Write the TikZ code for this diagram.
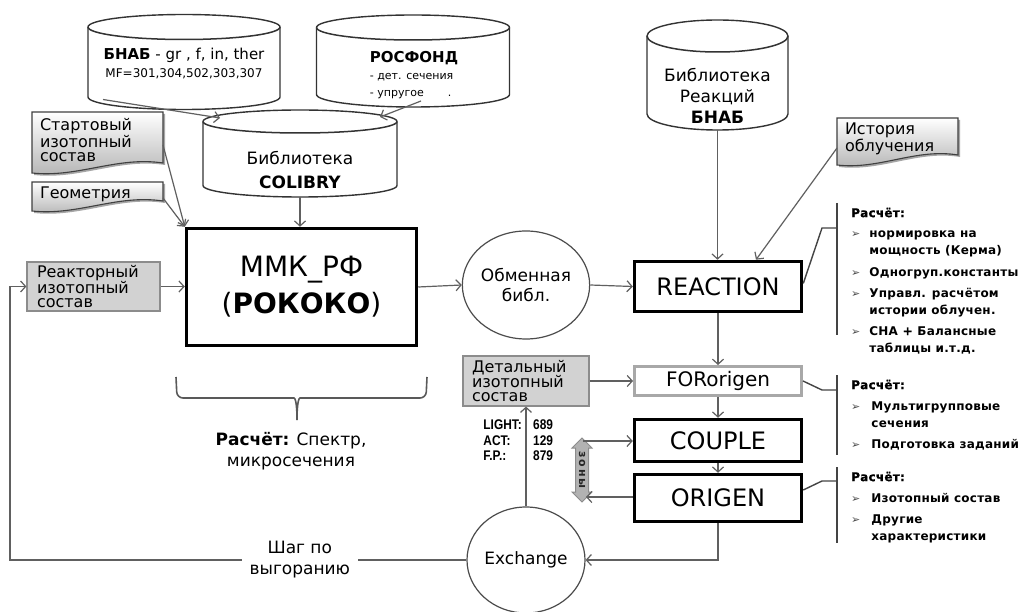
\documentclass[tikz,border=0pt]{standalone}
\usepackage{fontspec}
\setmainfont{DejaVu Sans}
\newfontfamily\notefont[LetterSpace=2,UprightFont={* Bold},BoldFont={* Bold},
  BoldFeatures={FakeBold=1.2}]{DejaVu Sans}
\newfontfamily\narrowfont[FakeStretch=0.85]{Liberation Sans}
\usetikzlibrary{arrows.meta,positioning,calc,backgrounds,shapes.geometric}
\definecolor{lineGray}{HTML}{606060}
\definecolor{boxGray}{HTML}{D2D2D2}
\definecolor{frameGray}{HTML}{A8A8A8}
\definecolor{darkGray}{HTML}{444444}

% database drum behind an empty node: name, half width, cap radius (in pt)
\newcommand{\dbcyl}[3]{%
  \filldraw[cylline] ([yshift=-#3pt]#1.north west) -- ([yshift=#3pt]#1.south west)
    .. controls ([yshift={0.448*#3*1pt}]#1.south west) and ([xshift={-0.552*#2*1pt}]#1.south) .. (#1.south)
    .. controls ([xshift={0.552*#2*1pt}]#1.south) and ([yshift={0.448*#3*1pt}]#1.south east) .. ([yshift=#3pt]#1.south east)
    -- ([yshift=-#3pt]#1.north east)
    .. controls ([yshift={-0.448*#3*1pt}]#1.north east) and ([xshift={0.552*#2*1pt}]#1.north) .. (#1.north)
    .. controls ([xshift={-0.552*#2*1pt}]#1.north) and ([yshift={-0.448*#3*1pt}]#1.north west) .. ([yshift=-#3pt]#1.north west)
    -- cycle;
  \draw[cylline,fill=none,line width=1.5pt] ([yshift=-#3pt]#1.north west)
    .. controls ([yshift={-1.552*#3*1pt}]#1.north west) and ([xshift={-0.552*#2*1pt},yshift={-2*#3*1pt}]#1.north) .. ([yshift={-2*#3*1pt}]#1.north)
    .. controls ([xshift={0.552*#2*1pt},yshift={-2*#3*1pt}]#1.north) and ([yshift={-1.552*#3*1pt}]#1.north east) .. ([yshift=-#3pt]#1.north east);}
% document sheet with wavy bottom
\newcommand{\docback}[1]{%
  \fill[black!35] let \p1=(#1.north west),\p2=(#1.south east),\n1={\x2-\x1} in
    (\x1+2pt,\y1-2pt) -- (\x2+2pt,\y1-2pt) -- (\x2+2pt,\y2+3pt)
    .. controls (\x1+0.65*\n1+2pt,\y2+10pt) and (\x1+0.35*\n1+2pt,\y2-12pt) .. (\x1+2pt,\y2-7pt) -- cycle;
  \shade[docline] let \p1=(#1.north west),\p2=(#1.south east),\n1={\x2-\x1} in
    (\x1,\y1) -- (\x2,\y1) -- (\x2,\y2+5pt)
    .. controls (\x1+0.65*\n1,\y2+12pt) and (\x1+0.35*\n1,\y2-10pt) .. (\x1,\y2-5pt) -- cycle;}
\newcommand{\bul}{{\fontsize{11}{11}\selectfont\textcolor{black!70}{➢}}}

\begin{document}
\begin{tikzpicture}[x=1pt,y=-1pt,
  conn/.style={-{Straight Barb[length=5pt,width=11pt]},draw=lineGray,line width=1.2pt},
  cylbox/.style={rectangle,inner sep=0pt,outer sep=0pt},
  cylline/.style={draw=black!80,line width=1.4pt,fill=white,line join=round},
  cyltext/.style={align=center,inner sep=0pt,font=\fontsize{17}{21}\selectfont},
  docbox/.style={rectangle,inner xsep=8pt,inner ysep=0pt,outer sep=0pt,align=left,
    font=\fontsize{16}{14}\selectfont},
  docline/.style={draw=black!75,line width=1.1pt,top color=white,bottom color=black!30},
  graybox/.style={rectangle,draw=black!45,line width=1.2pt,fill=boxGray,align=left,
    inner xsep=10pt,inner ysep=0pt,font=\fontsize{16}{14}\selectfont},
  mainbox/.style={rectangle,draw=black,line width=3.5pt,fill=white,align=center,inner sep=0pt},
  roundbox/.style={ellipse,draw=black!70,line width=1.2pt,minimum width=118pt,minimum height=108pt,
    inner sep=0pt,align=center,font=\fontsize{17}{20}\selectfont},
  notetext/.style={anchor=north west,inner sep=0pt,font=\notefont\fontsize{12}{17}\selectfont},
  brk/.style={draw=darkGray,line width=1.4pt},
  bracecol/.style={draw=black!65,line width=1.6pt},
  zonefill/.style={draw=black!45,fill=black!30,line width=1pt}
]
\useasboundingbox (0,0) rectangle (1031,612);

% libraries
\node[cylbox,minimum width=192pt,minimum height=95pt] (bnab) at (184,62) {};
\dbcyl{bnab}{96}{12.5}
\node[cyltext,font=\fontsize{15}{18}\selectfont] (bnabtxt) at (184,64)
  {\textbf{БНАБ} - gr , f, in, ther\\{\fontsize{12}{14}\selectfont MF=301,304,502,303,307}};
\node[cylbox,minimum width=193pt,minimum height=92pt] (rosfond) at (413,61) {};
\dbcyl{rosfond}{96.5}{12.5}
\node[cyltext,align=left,font=\fontsize{11}{17}\selectfont] (rosftxt) at (414,75)
  {{\fontsize{15}{18}\selectfont\textbf{РОСФОНД}}\\- дет. сечения\\- упругое\hspace{24pt}.};
\node[cylbox,minimum width=194pt,minimum height=87pt] (colibry) at (300,153.5) {};
\dbcyl{colibry}{97}{11.5}
\node[cyltext,font=\fontsize{17}{24}\selectfont] (colitxt) at (300,170) {Библиотека\\\textbf{COLIBRY}};
\node[cylbox,minimum width=141pt,minimum height=110pt] (bibreac) at (717.5,75) {};
\dbcyl{bibreac}{70.5}{16}
\node[cyltext] (bibtxt) at (717.5,96) {Библиотека\\Реакций\\\textbf{БНАБ}};

% input sheets
\node[docbox,minimum width=131pt,minimum height=56pt,text width=115pt] (start) at (97.5,140)
  {Стартовый\\изотопный\\состав};
\node[docbox,minimum width=131pt,minimum height=24pt,text width=115pt] (geom) at (97.5,194) {Геометрия};
\node[docbox,minimum width=121pt,minimum height=42pt,text width=105pt] (history) at (897.5,139)
  {История\\облучения};
\node[graybox,text width=113pt,minimum height=49pt] (reactor) at (93.5,286.5) {Реакторный\\изотопный\\состав};
\node[graybox,text width=108pt,inner xsep=9pt,minimum height=50pt] (detal) at (526,381)
  {Детальный\\изотопный\\состав};

% codes
\node[mainbox,minimum width=230pt,minimum height=117pt,font=\fontsize{28}{37}\selectfont] (mmk)
  at (301.5,287) {ММК\_РФ\\(\textbf{РОКОКО})};
\node[roundbox] (obmen) at (526,285) {Обменная\\библ.};
\node[mainbox,minimum width=167pt,minimum height=50pt,font=\fontsize{24}{28}\selectfont] (reaction)
  at (718,286.5) {REACTION};
\node[mainbox,draw=frameGray,line width=3pt,minimum width=167pt,minimum height=29pt,
  font=\fontsize{20}{24}\selectfont] (fororigen) at (718,381) {FORorigen};
\node[mainbox,minimum width=167pt,minimum height=42pt,font=\fontsize{24}{28}\selectfont] (couple)
  at (718,440.5) {COUPLE};
\node[mainbox,minimum width=167pt,minimum height=47pt,font=\fontsize{24}{28}\selectfont] (origen)
  at (718,498) {ORIGEN};
\node[roundbox,minimum height=106pt] (exchange) at (526,560) {Exchange};

% zones
\filldraw[zonefill] (582,438) -- (592,448) -- (588.5,448) -- (588.5,492) -- (592,492) -- (582,502)
  -- (572,492) -- (575.5,492) -- (575.5,448) -- (572,448) -- cycle;
\node[rotate=-90,inner sep=0pt,text=black!85,font=\bfseries\fontsize{11}{11}\selectfont] (zones)
  at (582,470) {з\,о\,н\,ы};
\coordinate (ztop) at (583,441);
\coordinate (zbot) at (586,497);

% nuclide counts
\node[align=left,inner sep=0pt,anchor=north east,font=\narrowfont\bfseries\fontsize{14}{15.5}\selectfont]
  (lightlbl) at (522,420) {LIGHT:\\ACT:\\F.P.:};
\node[align=left,inner sep=0pt,right=11pt of lightlbl,font=\narrowfont\bfseries\fontsize{14}{15.5}\selectfont]
  (lightval) {689\\129\\879};

% connectors
\draw[conn] ([xshift=-81pt,yshift=10pt]bnab.south) -- ([xshift=-80pt,yshift=-8pt]colibry.north);
\draw[conn] ([xshift=8pt,yshift=6pt]rosfond.south) -- ([xshift=80pt,yshift=-7pt]colibry.north);
\draw[conn] ([yshift=-5pt]start.east) -- (mmk.north west);
\draw[conn] ([yshift=-4pt]geom.east) -- (mmk.north west);
\draw[conn] (colibry.south) -- (colibry.south |- mmk.north);
\draw[conn] (reactor.east) -- (reactor.east -| mmk.west);
\draw[conn] (mmk.east) -- (obmen.west);
\draw[conn] (obmen.east) -- (reaction.west);
\draw[conn] (bibreac.south) -- (bibreac.south |- reaction.north);
\draw[conn] ([yshift=-9pt]history.west) -- ([xshift=38pt]reaction.north);
\draw[conn] (reaction.south) -- (fororigen.north);
\draw[conn] (detal.east) -- (detal.east -| fororigen.west);
\draw[conn] (fororigen.south) -- (couple.north);
\draw[conn] (couple.south) -- (origen.north);
\draw[conn] (origen.south) |- (exchange.east);
\draw[conn] (exchange.north) -- (detal.south);
\draw[conn] (ztop) -- (ztop -| couple.west);
\draw[conn] (zbot -| origen.west) -- (zbot);
\coordinate (loopc) at (10,560);
\draw[conn] (exchange.west) -- node[pos=0.365,fill=white,inner xsep=8pt,align=center,
  font=\fontsize{17}{21}\selectfont] (step) {Шаг по\\выгоранию} (loopc) |- (reactor.west);

% brace under the transport code
\draw[bracecol,rounded corners=6pt] (176,377) -- (177,398) -- (288,398) .. controls (295,398) and (297,402) .. (297,420);
\draw[bracecol,rounded corners=6pt] (427,377) -- (426,398) -- (306,398) .. controls (299,398) and (297,402) .. (297,420);
\node[align=center,inner sep=0pt,font=\fontsize{17}{21}\selectfont] (calcmmk) at (291,451)
  {\textbf{Расчёт:} Спектр,\\микросечения};

% notes on the right
\coordinate (brk1) at (837,228);
\coordinate (brk2) at (837,390);
\coordinate (brk3) at (837,481);
\draw[brk] (837,203) -- (837,335);
\draw[brk] (837,375) -- (837,455);
\draw[brk] (837,467) -- (837,543);
\draw[brk] ([yshift=3pt]reaction.east) -- ([xshift=-15pt]brk1) -- (brk1);
\draw[brk] (fororigen.east) -- ([xshift=-15pt]brk2) -- (brk2);
\draw[brk] ([yshift=8pt]origen.east) -- ([xshift=-15pt]brk3) -- (brk3);
\node[notetext] (note1) at (851,205) {\begin{tabular}{@{}l@{\hspace{9pt}}l@{}}
  \multicolumn{2}{@{}l@{}}{\textbf{Расчёт:}}\\[3pt]
  \bul & нормировка на\\
       & мощность (Керма)\\[5pt]
  \bul & Одногруп.константы\\[4pt]
  \bul & Управл. расчётом\\
       & истории облучен.\\[4pt]
  \bul & СНА \textbf{+} Балансные\\
       & таблицы и.т.д.
  \end{tabular}};
\node[notetext] (note2) at (851,377) {\begin{tabular}{@{}l@{\hspace{11pt}}l@{}}
  \multicolumn{2}{@{}l@{}}{\textbf{Расчёт:}}\\[4pt]
  \bul & Мультигрупповые\\
       & сечения\\[4pt]
  \bul & Подготовка заданий
  \end{tabular}};
\node[notetext] (note3) at (851,469) {\begin{tabular}{@{}l@{\hspace{11pt}}l@{}}
  \multicolumn{2}{@{}l@{}}{\textbf{Расчёт:}}\\[4pt]
  \bul & Изотопный состав\\[4pt]
  \bul & Другие\\
       & характеристики
  \end{tabular}};

\begin{scope}[on background layer]
\fill[white] (0,0) rectangle (1031,612);
\docback{start}
\docback{geom}
\docback{history}
\end{scope}
\end{tikzpicture}
\end{document}
